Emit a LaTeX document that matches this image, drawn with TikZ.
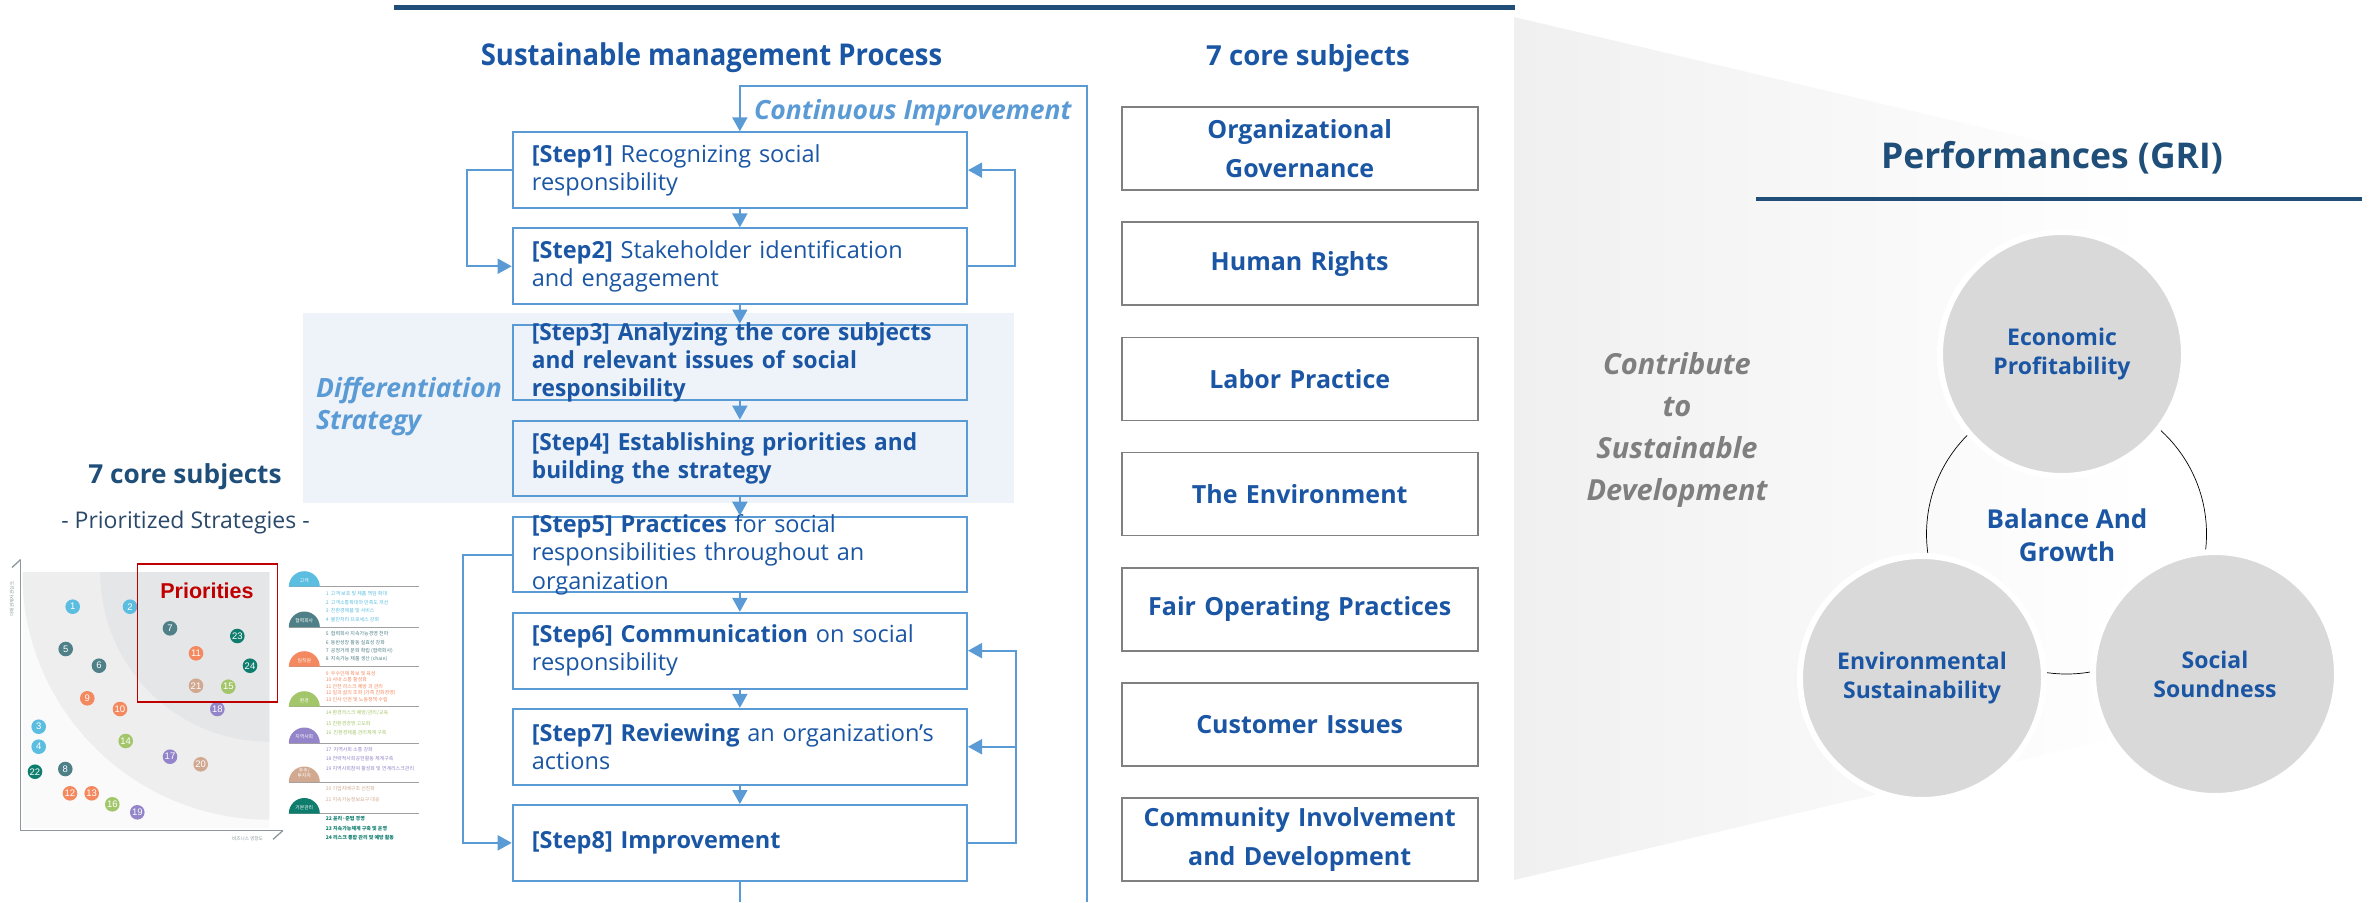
\documentclass[tikz,border=0pt]{standalone}
\usepackage{fontspec}
\setmainfont{Open Sans}
\newfontfamily\condf[FakeStretch=0.915]{Open Sans}
\newfontfamily\stepbf[FakeStretch=0.965]{Open Sans}
\newfontfamily\arialf{Liberation Sans}
\newfontfamily\krf{Noto Sans CJK KR}
\usetikzlibrary{arrows.meta}
\definecolor{navy}{HTML}{1F4E79}
\definecolor{tblue}{HTML}{1A56A4}
\definecolor{lblue}{HTML}{5B9BD5}
\definecolor{shadebg}{HTML}{EEF3FA}
\definecolor{boxgray}{HTML}{808080}
\definecolor{circfill}{HTML}{D9D9D9}
\definecolor{fangray}{HTML}{F0F0F0}
\definecolor{cgray}{HTML}{7F7F7F}
\definecolor{thin}{HTML}{B4B4B4}
\definecolor{cBlue}{HTML}{5BBDE0}
\definecolor{cSlate}{HTML}{4F8088}
\definecolor{cOrange}{HTML}{F4895F}
\definecolor{cGreen}{HTML}{A3C66A}
\definecolor{cPurple}{HTML}{9484C9}
\definecolor{cTan}{HTML}{D1A991}
\definecolor{cTeal}{HTML}{0F7D6E}
\definecolor{prired}{HTML}{C00000}
\definecolor{axisgray}{HTML}{8C989C}
\definecolor{chartW}{HTML}{FAFAFA}
\definecolor{chartM}{HTML}{EEEEEF}
\definecolor{chartD}{HTML}{E5E6E8}
\definecolor{leggray}{HTML}{A0A0A0}
\definecolor{subnavy}{HTML}{2A4868}
\newcommand{\fs}[2]{\fontsize{#1}{#2}\selectfont}
\begin{document}
\begin{tikzpicture}[x=1pt,y=-1pt,
  stepbox/.style={draw=lblue, line width=2pt, minimum width=454.3pt, minimum height=75.7pt, inner sep=0pt},
  steptext/.style={anchor=west, inner sep=0pt, text width=430pt, align=left, text=tblue, font=\fs{23.5}{28.3}},
  conn/.style={draw=lblue, line width=2pt, -{Triangle[width=15pt,length=14pt]}},
  plainline/.style={draw=lblue, line width=2pt},
  subjbox/.style={draw=boxgray, line width=1.6pt, minimum width=356pt, minimum height=83pt, inner sep=0pt, text width=352pt, align=center, text=tblue, font=\bfseries\fs{25}{39}},
  perf/.style={circle, fill=circfill, draw=white, line width=6pt, minimum size=244pt, inner sep=0pt, align=center, text=tblue, font=\bfseries\fs{23}{29}},
  bub/.style={circle, minimum size=14.6pt, inner sep=0pt, text=white, font=\arialf\fs{9.5}{9.5}},
  legtxt/.style={anchor=west, inner sep=0pt, font=\krf\fs{5}{5.5}},
  semilab/.style={text=white, font=\krf\fs{4.8}{5.4}, align=center, inner sep=0pt}
]
\useasboundingbox (0,0) rectangle (2374,902);

% ---------- fan and top line ----------
\shade[left color=fangray, right color=white] (1514,17) -- (2150,167) -- (2150,730) -- (1514,880) -- cycle;
\draw[navy, line width=5pt] (394,7) -- (1515,7);

% ---------- left panel ----------
\node[font=\bfseries\fs{26.2}{32}, text=navy] (lt) at (185,477) {7 core subjects};
\node[font=\fs{23}{28}, text=subnavy] (lst) at (185.5,523) {- Prioritized Strategies -};

\begin{scope}
\clip (22.7,572.7) rectangle (269.3,828.3);
\fill[chartW] (22.7,572.7) rectangle (269.3,828.3);
\fill[chartM] (269.3,572.7) circle[radius=247];
\fill[chartD] (269.3,572.7) circle[radius=169];
\end{scope}
\draw[axisgray, line width=1.3pt] (20.7,559.5) -- (20.7,830.5) -- (283,830.5);
\draw[axisgray, line width=1.3pt] (12,567.5) -- (20.7,559.5);
\draw[axisgray, line width=1.3pt] (273,839.3) -- (283,830.5);
\node[rotate=90, font=\krf\fs{4.6}{5}, text=axisgray] (ylab) at (12,599) {이해관계자 관심도};
\node[font=\krf\fs{4.6}{5}, text=axisgray] (xlab) at (247.5,838.5) {비즈니스 영향도};

\foreach \x/\y/\n/\c in {72.7/606.7/1/cBlue, 130/606.7/2/cBlue, 38.7/726.7/3/cBlue, 38.7/746.7/4/cBlue,
  65.7/649/5/cSlate, 99/665.7/6/cSlate, 170/628.3/7/cSlate, 65.3/769/8/cSlate,
  87.3/698.3/9/cOrange, 120/709/10/cOrange, 196/653.3/11/cOrange, 70/793.3/12/cOrange, 91.7/793.3/13/cOrange,
  125.7/741/14/cGreen, 228.3/686.7/15/cGreen, 112.3/804.3/16/cGreen,
  170/756.7/17/cPurple, 217.3/709/18/cPurple, 137.3/812.3/19/cPurple,
  200.7/764.3/20/cTan, 196/685.7/21/cTan,
  35/771.7/22/cTeal, 237.3/636/23/cTeal, 250/665.7/24/cTeal}
  \node[bub, fill=\c] (b\n) at (\x,\y) {\n};

\draw[prired, line width=1.6pt] (137.3,564) rectangle (277.3,701.7);
\node[font=\arialf\bfseries\fs{21.5}{24}, text=prired] (pri) at (207,590.7) {Priorities};

% legend
\foreach \yy in {586.7,627,666.7,706.7,743,782,813.5}
  \draw[leggray, line width=0.8pt] (289,\yy) -- (419,\yy);
\fill[cBlue]   (288.8,586.7) arc[start angle=180,end angle=360,radius=15.5] -- cycle;
\fill[cSlate]  (288.8,627)   arc[start angle=180,end angle=360,radius=15.5] -- cycle;
\fill[cOrange] (288.8,666.7) arc[start angle=180,end angle=360,radius=15.5] -- cycle;
\fill[cGreen]  (288.8,706.7) arc[start angle=180,end angle=360,radius=15.5] -- cycle;
\fill[cPurple] (288.8,743)   arc[start angle=180,end angle=360,radius=15.5] -- cycle;
\fill[cTan]    (288.8,782)   arc[start angle=180,end angle=360,radius=15.5] -- cycle;
\fill[cTeal]   (288.8,813.5) arc[start angle=180,end angle=360,radius=15.5] -- cycle;
\node[semilab] (g1) at (304.3,580.5) {고객};
\node[semilab] (g2) at (304.3,620.8) {협력회사};
\node[semilab] (g3) at (304.3,660.5) {임직원};
\node[semilab] (g4) at (304.3,700.5) {환경};
\node[semilab] (g5) at (304.3,736.8) {지역사회};
\node[semilab] (g6) at (304.3,773.5) {주주/\\투자자};
\node[semilab] (g7) at (304.3,807.3) {기본관리};

\node[legtxt, text=cBlue] (l1) at (325.7,594) {1\ \ 고객 보호 및 제품 책임 확대};
\node[legtxt, text=cBlue] (l2) at (325.7,602.3) {2\ \ 고객소통확대와 만족도 개선};
\node[legtxt, text=cBlue] (l3) at (325.7,610.7) {3\ \ 친환경제품 및 서비스};
\node[legtxt, text=cBlue] (l4) at (325.7,619.3) {4\ \ 불만처리 프로세스 강화};
\node[legtxt, text=cSlate] (l5) at (325.7,634) {5\ \ 협력회사 지속가능경영 전파};
\node[legtxt, text=cSlate] (l6) at (325.7,642.3) {6\ \ 동반성장 활동 실효성 강화};
\node[legtxt, text=cSlate] (l7) at (325.7,650.7) {7\ \ 공정거래 문화 확립 (협력회사)};
\node[legtxt, text=cSlate] (l8) at (325.7,659.3) {8\ \ 지속가능 제품 생산 (chain)};
\node[legtxt, text=cOrange] (l9) at (325.7,673.3) {9\ \ 우수인재 확보 및 육성};
\node[legtxt, text=cOrange] (l10) at (325.7,679.5) {10 사내 소통 활성화};
\node[legtxt, text=cOrange] (l11) at (325.7,686.3) {11 안전 리스크 예방 과 관리};
\node[legtxt, text=cOrange] (l12) at (325.7,692.7) {12 일과 삶의 조화 (가족 친화경영)};
\node[legtxt, text=cOrange] (l13) at (325.7,699.3) {13 인사 인권 및 노동정책 수립};
\node[legtxt, text=cGreen] (l14) at (325.7,713.3) {14 환경리스크 예방/관리/교육};
\node[legtxt, text=cGreen] (l15) at (325.7,723.3) {15 친환경경영 고도화};
\node[legtxt, text=cGreen] (l16) at (325.7,732.7) {16\ \ 친환경제품 관리체계 구축};
\node[legtxt, text=cPurple] (l17) at (325.7,749.3) {17\ \ 지역사회 소통 강화};
\node[legtxt, text=cPurple] (l18) at (325.7,758.7) {18 전략적사회공헌활동 체계구축};
\node[legtxt, text=cPurple] (l19) at (325.7,768.7) {19 지역사회참여 활성화 및 연계리스크관리};
\node[legtxt, text=cTan] (l20) at (325.7,788.7) {20 기업지배구조 선진화};
\node[legtxt, text=cTan] (l21) at (325.7,799.3) {21 지속가능정보요구 대응};
\node[legtxt, text=cTeal, font=\krf\bfseries\fs{5}{5.5}] (l22) at (325.7,818.7) {22 윤리·준법 경영};
\node[legtxt, text=cTeal, font=\krf\bfseries\fs{5}{5.5}] (l23) at (325.7,828.3) {23 지속가능체계 구축 및 운영};
\node[legtxt, text=cTeal, font=\krf\bfseries\fs{5}{5.5}] (l24) at (325.7,837.3) {24 리스크 통합 관리 및 예방 활동};

% ---------- flowchart ----------
\fill[shadebg] (302.5,313.3) rectangle (1014,502.7);
\node[font=\condf\bfseries\fs{30}{36}, text=tblue] (ttl) at (711.5,58) {Sustainable management Process};
\node[font=\bfseries\itshape\fs{26.5}{31}, text=lblue, anchor=west, inner sep=0pt] (ci) at (754,112.7) {Continuous Improvement};
\node[font=\bfseries\itshape\fs{26.5}{32}, text=lblue, anchor=west, align=left, inner sep=0pt] (ds) at (316,406.7) {Differentiation\\Strategy};

\node[stepbox] (s1) at (739.85,170.15) {};
\node[stepbox] (s2) at (739.85,266.25) {};
\node[stepbox] (s3) at (739.85,362.35) {};
\node[stepbox] (s4) at (739.85,458.45) {};
\node[stepbox] (s5) at (739.85,554.55) {};
\node[stepbox] (s6) at (739.85,650.65) {};
\node[stepbox] (s7) at (739.85,746.75) {};
\node[stepbox] (s8) at (739.85,842.85) {};

\node[steptext] (t1) at ([xshift=20pt]s1.west) {\textbf{[Step1]} Recognizing social\\responsibility};
\node[steptext] (t2) at ([xshift=20pt]s2.west) {\textbf{[Step2]} Stakeholder identification\\and engagement};
\node[steptext, font=\stepbf\bfseries\fs{23.5}{28.3}] (t3) at ([xshift=20pt]s3.west) {[Step3] Analyzing the core subjects\\and relevant issues of social\\responsibility};
\node[steptext, font=\stepbf\bfseries\fs{23.5}{28.3}] (t4) at ([xshift=20pt]s4.west) {[Step4] Establishing priorities and\\building the strategy};
\node[steptext] (t5) at ([xshift=20pt]s5.west) {\textbf{[Step5] Practices} for social\\responsibilities throughout an\\organization};
\node[steptext] (t6) at ([xshift=20pt]s6.west) {\textbf{[Step6] Communication} on social\\responsibility};
\node[steptext] (t7) at ([xshift=20pt]s7.west) {\textbf{[Step7] Reviewing} an organization’s\\actions};
\node[steptext] (t8) at ([xshift=20pt]s8.west) {\textbf{[Step8] Improvement}};

\draw[conn] (s1.south) -- (s2.north);
\draw[conn] (s2.south) -- (s3.north);
\draw[conn] (s3.south) -- (s4.north);
\draw[conn] (s4.south) -- (s5.north);
\draw[conn] (s5.south) -- (s6.north);
\draw[conn] (s6.south) -- (s7.north);
\draw[conn] (s7.south) -- (s8.north);

\draw[conn] (s1.west) -- ++(-44.7,0) |- (s2.west);
\draw[conn] (s2.east) -- ++(47,0) |- (s1.east);
\draw[conn] (s5.west) -- ++(-48.7,0) |- (s8.west);
\draw[conn] (s8.east) -- ++(48,0) coordinate (r2) |- (s6.east);
\draw[conn] (r2 |- s7.east) -- (s7.east);

\coordinate (ciB) at (1086.5,902);
\coordinate (ciT) at (1086.5,86);
\draw[conn] (ciB) -- (ciT) -- (s1.north |- ciT) -- (s1.north);
\coordinate (bot) at (739.85,902);
\draw[plainline] (s8.south) -- (bot);

% ---------- 7 core subjects column ----------
\node[font=\bfseries\fs{27.6}{34}, text=tblue] (ttl2) at (1308,58) {7 core subjects};
\node[subjbox] (k1) at (1299.7,148.5) {Organizational\\Governance};
\node[subjbox] (k2) at (1299.7,263.7) {Human Rights};
\node[subjbox] (k3) at (1299.7,378.9) {Labor Practice};
\node[subjbox] (k4) at (1299.7,494.1) {The Environment};
\node[subjbox] (k5) at (1299.7,609.3) {Fair Operating Practices};
\node[subjbox] (k6) at (1299.7,724.5) {Customer Issues};
\node[subjbox] (k7) at (1299.7,839.7) {Community Involvement\\and Development};

% ---------- right panel ----------
\node[font=\bfseries\fs{35.5}{42}, text=navy] (perfT) at (2052,158) {Performances (GRI)};
\draw[navy, line width=4.5pt] (1756,199) -- (2362,199);
\node[font=\bfseries\itshape\fs{29}{42}, text=cgray, align=center] (contrib) at (1677,429.5) {Contribute\\to\\Sustainable\\Development};

\draw[thin, line width=0.7pt] (2066.5,534) circle[radius=140];
\node[perf] (eco) at (2062,354) {Economic\\Profitability};
\node[perf] (env) at (1922,678) {Environmental\\Sustainability};
\node[perf] (soc) at (2215,674) {Social\\Soundness};
\node[font=\bfseries\fs{26}{33}, text=tblue, align=center] (bal) at (2067,535) {Balance And\\Growth};
\end{tikzpicture}
\end{document}
